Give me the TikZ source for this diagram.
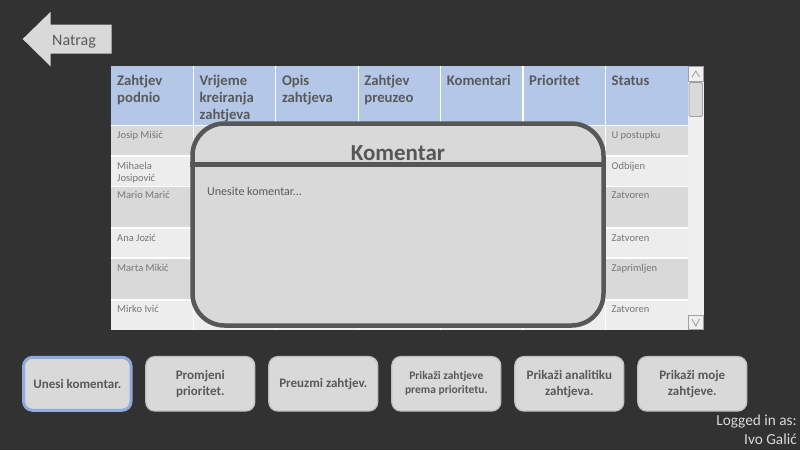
\documentclass[tikz,border=0pt]{standalone}
\usepackage{fontspec}
\setmainfont{Carlito}
\definecolor{bgdark}{HTML}{323232}
\definecolor{headblue}{HTML}{B4C7E7}
\definecolor{rowdark}{HTML}{D9D9D9}
\definecolor{rowlight}{HTML}{EDEDED}
\definecolor{hdrgray}{HTML}{595959}
\definecolor{namegray}{HTML}{767676}
\definecolor{popline}{HTML}{575757}
\definecolor{popfill}{HTML}{D9D9D9}
\definecolor{btnline}{HTML}{BFBFBF}
\definecolor{btnblue}{HTML}{8FAADC}
\definecolor{trackfill}{HTML}{F0F0F0}
\definecolor{scrgray}{HTML}{A0A0A0}
\begin{document}
\begin{tikzpicture}[x=1pt, y=-1pt, line join=round]
  \tikzstyle{hdrtext}=[anchor=base west, inner sep=0pt, align=left, text=hdrgray, font=\bfseries\fontsize{14.7}{17}\selectfont]
  \tikzstyle{celltext}=[anchor=base west, inner sep=0pt, align=left, text=namegray, font=\fontsize{10.5}{12}\selectfont]
  \tikzstyle{gridline}=[white, line width=1.3pt]
  \tikzstyle{button}=[rounded corners=9pt, fill=rowdark, draw=btnline, line width=1.2pt, minimum width=109pt, minimum height=54.5pt, inner sep=2pt, text=hdrgray, align=center, font=\bfseries\fontsize{13}{15.5}\selectfont]
  \tikzstyle{popup}=[rounded corners=32pt, fill=popfill, draw=popline, line width=4.5pt, minimum width=411pt, minimum height=202pt, inner sep=0pt]
  \tikzstyle{scrbox}=[draw=scrgray, line width=0.8pt, fill=trackfill]
  \useasboundingbox (0,0) rectangle (800,450);
  \fill[bgdark] (0,0) rectangle (800,450);
  % back arrow
  \fill[rowdark] (22.7,39) -- (50.7,11.7) -- (50.7,24.5) -- (111.5,24.5)
    -- (111.5,53.5) -- (50.7,53.5) -- (50.7,66.5) -- cycle;
  \node[anchor=base, inner sep=0pt, text=hdrgray, font=\fontsize{16}{19}\selectfont] (natrag) at (74,45) {Natrag};
  % table (base anchor = last line)
  \fill[headblue] (111,66) rectangle (688,125.5);
  \fill[rowdark] (111,125.5) rectangle (688,156);
  \fill[rowlight] (111,156) rectangle (688,186.5);
  \fill[rowdark] (111,186.5) rectangle (688,228);
  \fill[rowlight] (111,228) rectangle (688,258);
  \fill[rowdark] (111,258) rectangle (688,300);
  \fill[rowlight] (111,300) rectangle (688,330);
  \foreach \x in {193.4,275.8,358.2,440.6,523,605.4}
    \draw[gridline] (\x,66) -- (\x,330);
  \foreach \y in {125.5,156,186.5,228,258,300}
    \draw[gridline] (111,\y) -- (688,\y);
  \node[hdrtext] (h1) at (117,102) {Zahtjev\\podnio};
  \node[hdrtext] (h2) at (199.4,119) {Vrijeme\\kreiranja\\zahtjeva};
  \node[hdrtext] (h3) at (281.8,102) {Opis\\zahtjeva};
  \node[hdrtext] (h4) at (364.2,102) {Zahtjev\\preuzeo};
  \node[hdrtext] (h5) at (446.6,85) {Komentari};
  \node[hdrtext] (h6) at (529,85) {Prioritet};
  \node[hdrtext] (h7) at (611.4,85) {Status};
  \node[celltext] (n1) at (117,138.5) {Josip Mišić};
  \node[celltext] (n2) at (117,181) {Mihaela\\Josipović};
  \node[celltext] (n3) at (117,198.5) {Mario Marić};
  \node[celltext] (n4) at (117,241) {Ana Jozić};
  \node[celltext] (n5) at (117,271) {Marta Mikić};
  \node[celltext] (n6) at (117,312.5) {Mirko Ivić};
  \node[celltext] (s1) at (611.4,138.5) {U postupku};
  \node[celltext] (s2) at (611.4,169) {Odbijen};
  \node[celltext] (s3) at (611.4,198.5) {Zatvoren};
  \node[celltext] (s4) at (611.4,241) {Zatvoren};
  \node[celltext] (s5) at (611.4,271) {Zaprimljen};
  \node[celltext] (s6) at (611.4,312.5) {Zatvoren};
  % scrollbar
  \fill[trackfill] (688,66) rectangle (703.5,330);
  \draw[scrbox] (688.5,66.5) rectangle (703,81.5);
  \draw[scrgray, line width=0.9pt] (692,77) -- (695.75,71) -- (699.5,77);
  \draw[scrbox, fill=rowdark, rounded corners=1.5pt] (689,82.5) rectangle (702.5,116.5);
  \draw[scrbox] (688.5,315) rectangle (703,329.5);
  \draw[scrgray, line width=0.9pt] (692,319) -- (695.75,326) -- (699.5,319);
  % comment popup
  \node[popup] (kom) at (398,224.5) {};
  \coordinate (divy) at (0,164.5);
  \draw[popline, line width=4.5pt] (kom.west |- divy) -- (kom.east |- divy);
  \node[anchor=base, inner sep=0pt, text=popline, font=\bfseries\fontsize{23}{27}\selectfont] (komtitle) at (398,160) {Komentar};
  \node[anchor=base west, inner sep=0pt, text=hdrgray, font=\fontsize{12}{14}\selectfont] (komtext) at (207,195) {Unesite komentar...};
  % buttons
  \node[button, draw=btnblue, line width=3pt, minimum width=107.5pt, minimum height=53pt] (b1) at (77.3,383.8) {Unesi komentar.};
  \node[button] (b2) at (200.3,383.8) {Promjeni\\prioritet.};
  \node[button] (b3) at (323.3,383.8) {Preuzmi zahtjev.};
  \node[button, font=\bfseries\fontsize{11.5}{14}\selectfont] (b4) at (446.3,383.8) {Prikaži zahtjeve\\prema prioritetu.};
  \node[button] (b5) at (569.3,383.8) {Prikaži analitiku\\zahtjeva.};
  \node[button] (b6) at (692.3,383.8) {Prikaži moje\\zahtjeve.};
  \node[anchor=base east, inner sep=0pt, align=right, text=rowdark, font=\fontsize{15.3}{19}\selectfont] (logged) at (797,444) {Logged in as:\\Ivo Galić};
\end{tikzpicture}
\end{document}
